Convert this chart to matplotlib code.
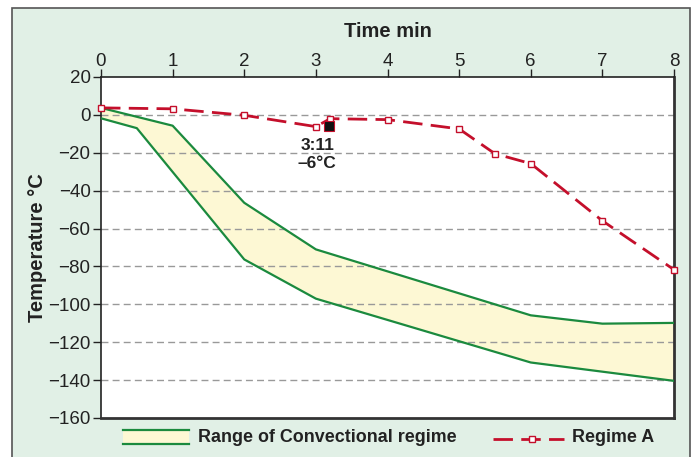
import matplotlib
matplotlib.use("Agg")
import matplotlib.pyplot as plt
from matplotlib.patches import Rectangle
from matplotlib.lines import Line2D
import numpy as np

plt.rcParams['font.family'] = ['Liberation Sans', 'DejaVu Sans']

# Regime A
regime_t = [0, 1, 2, 3, 3.2, 4, 5, 5.5, 6, 7, 8]
regime_T = [3.7, 3.2, -0.2, -6.2, -2, -2.5, -7.4, -20.5, -25.7, -55.9, -81.7]

# Range of convectional regime (upper / lower bounds)
upper_t = [0, 1, 2, 3, 6, 7, 8]
upper_T = [3.7, -5.7, -46.4, -71, -105.8, -110.2, -109.8]
lower_t = [0, 0.5, 2, 3, 6, 8]
lower_T = [-1.8, -7, -76.3, -97, -130.7, -140.4]

# annotated point
mark_t = [3.183]
mark_T = [-6]
mark_label = "3:11\n\u20136\u00b0C"

xticks = [0, 1, 2, 3, 4, 5, 6, 7, 8]
yticks = [20, 0, -20, -40, -60, -80, -100, -120, -140, -160]

RED = '#c40f2b'
GREEN = '#1b8a3e'
YELLOW = '#fdf8d4'
BG = '#e1f0e6'

W, H = 693, 457
fig = plt.figure(figsize=(W / 100, H / 100), dpi=100)
fig.patch.set_facecolor('white')
# green panel with border
fig.add_artist(Rectangle((12 / W, -0.05), (690 - 12) / W, 1.05 - 8 / H,
                         transform=fig.transFigure, facecolor=BG,
                         edgecolor='#555555', linewidth=1.2, zorder=0))

ax = fig.add_axes([101 / W, 1 - 418 / H, (674 - 101) / W, (418 - 77) / H])
ax.set_facecolor('white')

# band
poly_x = np.concatenate([upper_t, lower_t[::-1]])
poly_y = np.concatenate([upper_T, lower_T[::-1]])
ax.fill(poly_x, poly_y, color=YELLOW, zorder=1, linewidth=0)
ax.plot(upper_t, upper_T, color=GREEN, lw=1.6, zorder=3)
ax.plot(lower_t, lower_T, color=GREEN, lw=1.6, zorder=3)

ax.plot(regime_t, regime_T, color=RED, lw=2.0, dashes=(7, 3), marker='s',
        markersize=4.5, markerfacecolor='white', markeredgecolor=RED,
        markeredgewidth=1.0, zorder=4, clip_on=False)
ax.plot(mark_t, mark_T, linestyle='none', marker='s', markersize=6.5,
        markerfacecolor='#111111', markeredgecolor=RED, markeredgewidth=0.8, zorder=5)
ax.text(3.02, -21, mark_label, ha='center', va='center', fontsize=12.5,
        fontweight='bold', color='#222222', linespacing=1.3, zorder=6)

ax.set_xlim(0, 8)
ax.set_ylim(-160, 20)
ax.set_xticks(xticks)
ax.set_yticks(yticks)
ax.set_yticklabels([str(v).replace('-', '\u2212') for v in yticks])
ax.xaxis.tick_top()
ax.xaxis.set_label_position('top')
ax.tick_params(axis='both', direction='out', length=6, width=1.0,
               labelsize=13.5, colors='#222222')
ax.tick_params(axis='x', pad=-1)
ax.tick_params(axis='y', pad=1.5)
for v in yticks[1:-1]:
    ax.axhline(v, color='#999999', lw=1.0, dashes=(5, 3), zorder=2)

ax.set_xlabel('Time min', fontsize=14.5, fontweight='bold', color='#222222', labelpad=11.5)
ax.set_ylabel('Temperature \u00b0C', fontsize=14.5, fontweight='bold', color='#222222', labelpad=1)

for s in ['left', 'top']:
    ax.spines[s].set_color('#222222')
    ax.spines[s].set_linewidth(1.2)
for s in ['right', 'bottom']:
    ax.spines[s].set_color('#333333')
    ax.spines[s].set_linewidth(2.0)

# legend (drawn in figure coords)
fig.add_artist(Rectangle((123 / W, 1 - 444 / H), (189 - 123) / W, (444 - 429.5) / H,
                         transform=fig.transFigure, facecolor=YELLOW, edgecolor='none'))
fig.add_artist(Line2D([123 / W, 189 / W], [1 - 430 / H] * 2, transform=fig.transFigure,
                      color=GREEN, lw=1.6))
fig.add_artist(Line2D([123 / W, 189 / W], [1 - 444 / H] * 2, transform=fig.transFigure,
                      color=GREEN, lw=1.6))
fig.text(198 / W, 1 - 438 / H, 'Range of Convectional regime', fontsize=12.9,
         fontweight='bold', color='#222222', va='center', ha='left')
fig.add_artist(Line2D([493 / W, 564 / W], [1 - 439 / H] * 2, transform=fig.transFigure,
                      color=RED, lw=2.0, dashes=(7, 3)))
fig.add_artist(Line2D([532 / W], [1 - 439 / H], transform=fig.transFigure,
                      color=RED, marker='s', markersize=4.5, markerfacecolor='white',
                      markeredgecolor=RED, markeredgewidth=1.0, linestyle='none'))
fig.text(572 / W, 1 - 438 / H, 'Regime A', fontsize=12.9,
         fontweight='bold', color='#222222', va='center', ha='left')

fig.savefig('out.png', dpi=100, facecolor=fig.get_facecolor())
